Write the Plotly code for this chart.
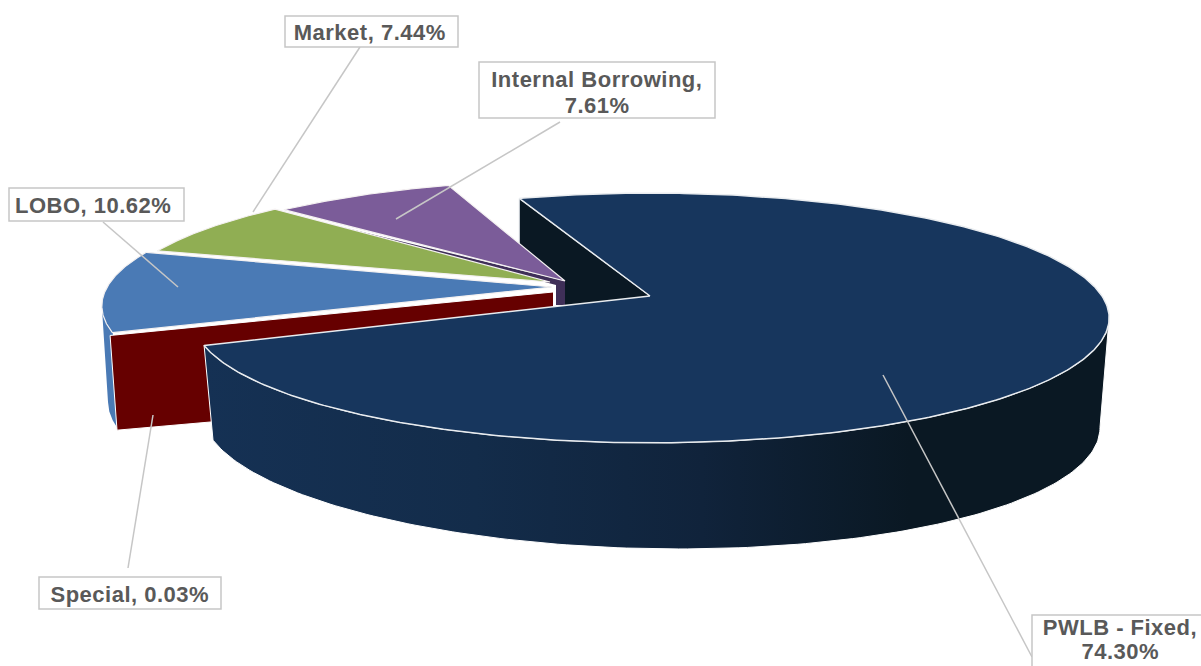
import numpy as np
import plotly.graph_objects as go

# ---- data ----
categories = ["PWLB - Fixed", "Special", "LOBO", "Market", "Internal Borrowing"]
values = [74.30, 0.03, 10.62, 7.44, 7.61]
label_texts = ["PWLB - Fixed,<br>74.30%", "Special, 0.03%", "LOBO, 10.62%",
               "Market, 7.44%", "Internal Borrowing,<br>7.61%"]

# ---- style / geometry of the 3-D view ----
W, H = 1201, 666
START = -19.9            # compass angle of first slice edge
A, B, K = 451.0, 121.0, 0.176   # perspective disc
B_LOW, S_LOW, SHEAR = 125.0, 0.98, 8.0   # lower disc of the extrusion
LINE_GAP = {"PWLB - Fixed": 24, "Internal Borrowing": 26}

TOP_C = {"PWLB - Fixed": (651, 296), "Special": (557, 286), "LOBO": (560, 284),
         "Market": (571, 282.5), "Internal Borrowing": (580, 283)}
APEX = {"PWLB - Fixed": (650, 296), "Special": (553, 292), "LOBO": (552, 287),
        "Market": (550, 282), "Internal Borrowing": (565, 281)}
LOW_C = {"PWLB - Fixed": (651, 397), "LOBO": (557, 387), "Special": (555, 387)}
COLORS = {"PWLB - Fixed": "#17365d", "Special": "#660000", "LOBO": "#4a7ab5",
          "Market": "#90ae53", "Internal Borrowing": "#7b5c99"}
DARK = "#0a1823"
PURPLE_WALL = "#3f2f58"
TEXT = "#595959"
BORDER = "#c6c6c6"

BOXES = {"Market": (285, 16, 458, 47), "Internal Borrowing": (479, 62, 715, 118),
         "LOBO": (9, 188, 184, 221), "Special": (39, 577, 221, 609),
         "PWLB - Fixed": (1032, 615, 1230, 690)}
TEXT_POS = {"Market": (370, 32), "Internal Borrowing": (597, 92), "LOBO": (93, 205),
            "Special": (130, 594), "PWLB - Fixed": (1120, 639.5)}
LEADERS = {"Market": ((360, 47), (253, 212)), "Internal Borrowing": ((560, 122), (396, 219)),
           "LOBO": ((103, 222), (178, 287)), "Special": ((128, 568), (153, 415)),
           "PWLB - Fixed": ((1032, 657), (883, 375))}

# slice angles follow from the values
bounds = START + np.concatenate([[0], np.cumsum(values)]) / sum(values) * 360
ANG = {c: (bounds[i], bounds[i + 1]) for i, c in enumerate(categories)}


def arc(t0, t1, c, low=False, n=160):
    th = np.radians(np.linspace(t0, t1, n))
    X, Y = np.sin(th), np.cos(th)
    w = 1 + K * Y
    if low:
        return c[0] + A * S_LOW * X / w, c[1] - B_LOW * Y / w + SHEAR * X / w
    return c[0] + A * X / w, c[1] - B * Y / w


fig = go.Figure()


def poly(x, y, color, line="rgba(0,0,0,0)", lw=0, name="", **kw):
    fig.add_trace(go.Scatter(x=list(x), y=list(y), mode="lines", fill="toself",
                             fillcolor=color, line=dict(color=line, width=lw),
                             name=name, hoverinfo="skip", showlegend=False, **kw))


P = "PWLB - Fixed"; S = "Special"; L = "LOBO"; M = "Market"; I = "Internal Borrowing"

# back radial wall of the exploded main slice
cx0, cy0 = arc(ANG[P][0], ANG[P][0], TOP_C[P], n=1)
poly([cx0[0], APEX[P][0], APEX[P][0], cx0[0], cx0[0]],
     [cy0[0], APEX[P][1], APEX[P][1] + 90, cy0[0] + 90, cy0[0]], DARK, "#dfe3e8", 1, "wall")

# light gap underneath the small slices
px, py = arc(ANG[I][0], ANG[I][0], TOP_C[I], n=1)
rx, ry = arc(ANG[S][0], ANG[S][0], TOP_C[S], n=1)
poly([px[0], APEX[I][0], APEX[I][0], APEX[S][0], rx[0]],
     [py[0], APEX[I][1], APEX[I][1] + 25, APEX[S][1] + 14, ry[0]], "#ffffff", name="gap")

# purple radial wall
poly([APEX[I][0], APEX[I][0], APEX[I][0] - 9, APEX[I][0] - 9, px[0] - 1],
     [APEX[I][1], APEX[I][1] + 24, APEX[I][1] + 24, APEX[I][1] + 4, py[0] + 3],
     PURPLE_WALL, name="wall")

# blue outer wall
tx, ty = arc(ANG[L][0], ANG[L][0] + 12, TOP_C[L])
bx, by = arc(ANG[L][0], ANG[L][0] + 12, LOW_C[L], low=True)
poly(np.r_[tx, bx[::-1]], np.r_[ty, by[::-1]], COLORS[L], name="wall")

# red radial wall (the Special slice)
bx2, by2 = arc(ANG[S][0], ANG[S][0], LOW_C[S], low=True, n=1)
poly([APEX[S][0], rx[0], bx2[0], APEX[S][0]],
     [APEX[S][1], ry[0], by2[0], APEX[S][1] + 100], COLORS[S], "#ffffff", 1, S)

# top faces of the small slices
for c in [I, M, L]:
    x, y = arc(*ANG[c], TOP_C[c])
    poly(np.r_[APEX[c][0], x, APEX[c][0]], np.r_[APEX[c][1], y, APEX[c][1]],
         COLORS[c], "#f4f1f1", 1.2, c)

# outer wall of the main slice, with the horizontal shading
tx, ty = arc(100, ANG[P][1], TOP_C[P])
bx, by = arc(100, ANG[P][1], LOW_C[P], low=True)
fig.add_trace(go.Scatter(
    x=np.r_[tx, bx[::-1], tx[0]], y=np.r_[ty, by[::-1], ty[0]], mode="lines", fill="toself",
    line=dict(color="#ffffff", width=1), hoverinfo="skip", showlegend=False, name="wall",
    fillgradient=dict(type="horizontal", colorscale=[[0, "#153154"], [0.3, "#132c4a"],
                                                     [0.55, "#10233b"], [0.78, DARK], [1, DARK]])))

# top face of the main slice
x, y = arc(*ANG[P], TOP_C[P], n=400)
poly(np.r_[APEX[P][0], x, APEX[P][0]], np.r_[APEX[P][1], y, APEX[P][1]],
     COLORS[P], "#e9ecef", 1.5, P)

# leader lines
for c, (p0, p1) in LEADERS.items():
    fig.add_trace(go.Scatter(x=[p0[0], p1[0]], y=[p0[1], p1[1]], mode="lines",
                             line=dict(color=BORDER, width=1.5), hoverinfo="skip",
                             showlegend=False, name=c))

shapes = [dict(type="rect", xref="x", yref="y", x0=b[0], y0=b[1], x1=b[2], y1=b[3],
               fillcolor="#ffffff", line=dict(color=BORDER, width=1.5), layer="above")
          for b in BOXES.values()]
annotations = []
for c, t in zip(categories, label_texts):
    lines = t.split("<br>")
    for i, ln in enumerate(lines):
        annotations.append(dict(
            x=TEXT_POS[c][0], y=TEXT_POS[c][1] + (i - (len(lines) - 1) / 2) * LINE_GAP.get(c, 0),
            xref="x", yref="y", text=f"<b>{ln}</b>", showarrow=False, align="center",
            xanchor="center", yanchor="middle",
            font=dict(family="Liberation Sans", size=22, color=TEXT)))

fig.update_layout(
    width=W, height=H, margin=dict(l=0, r=0, t=0, b=0), showlegend=False,
    paper_bgcolor="#ffffff", plot_bgcolor="#ffffff", shapes=shapes, annotations=annotations,
    xaxis=dict(range=[0, W], visible=False, fixedrange=True),
    yaxis=dict(range=[H, 0], visible=False, fixedrange=True),
)
fig.write_html("out.html", config={"displayModeBar": False},
               post_script="document.body.style.margin='0';document.body.style.overflow='hidden';"
                           "document.querySelectorAll('.annotation-text').forEach(e=>e.style.letterSpacing='0.5px');")
